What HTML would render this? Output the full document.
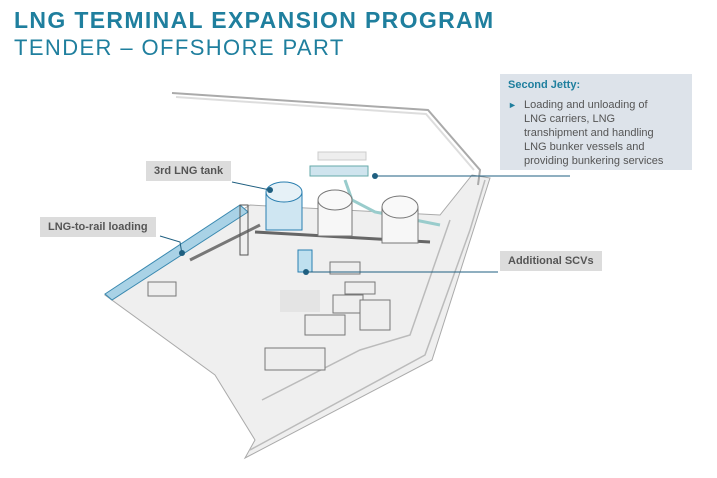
<!DOCTYPE html>
<html><head><meta charset="utf-8"><style>
body{margin:0;width:717px;height:478px;background:#fff;overflow:hidden;font-family:"Liberation Sans",sans-serif;position:relative}
.t1{position:absolute;left:14px;top:7px;font-size:23px;font-weight:bold;color:#1f7f9e;letter-spacing:1.35px}
.t2{position:absolute;left:14px;top:35px;font-size:22px;color:#1f7f9e;letter-spacing:1.4px}
.lbl{position:absolute;background:#dcdcdc;color:#555;font-size:11px;font-weight:bold;padding:4px 8px}
.box{position:absolute;left:500px;top:74px;width:192px;height:96px;background:#dde3ea;color:#555;font-size:11px;line-height:14px}
</style></head><body>
<div class="t1">LNG TERMINAL EXPANSION PROGRAM</div>
<div class="t2">TENDER – OFFSHORE PART</div>
<svg width="717" height="478" style="position:absolute;left:0;top:0">
<polygon points="105,295 250,205 440,215 472,175 490,178 432,360 245,458 255,440 215,375" fill="#efefef" stroke="#aaa"/>
<polyline points="250,450 425,355 470,230 485,180" fill="none" stroke="#bbb" stroke-width="1.5"/>
<polyline points="262,400 360,350 410,335 450,220" fill="none" stroke="#bbb" stroke-width="1.5"/>
<polyline points="172,93 428,110 480,170 478,185" fill="none" stroke="#aaa" stroke-width="2"/>
<polyline points="176,97 426,114 474,170" fill="none" stroke="#ddd" stroke-width="2"/>
<polygon points="105,294 240,205 248,212 112,300" fill="#a9d2e6" stroke="#3a89b0"/>
<line x1="190" y1="260" x2="260" y2="225" stroke="#777" stroke-width="3"/>
<rect x="240" y="205" width="8" height="50" fill="none" stroke="#555"/>
<rect x="310" y="166" width="58" height="10" fill="#cfe4ee" stroke="#6aa"/>
<rect x="318" y="152" width="48" height="8" fill="#eee" stroke="#ccc"/>
<polyline points="345,180 352,200 375,212 440,225" fill="none" stroke="#9cc" stroke-width="3"/>
<line x1="255" y1="232" x2="430" y2="242" stroke="#666" stroke-width="3"/>
<rect x="266" y="192" width="36" height="38" fill="#cfe6f2" stroke="#2a7fb0"/>
<ellipse cx="284" cy="192" rx="18" ry="10" fill="#e6f1f7" stroke="#2a7fb0"/>
<rect x="318" y="200" width="34" height="36" fill="#f7f7f7" stroke="#777"/>
<ellipse cx="335" cy="200" rx="17" ry="10" fill="#f9f9f9" stroke="#777"/>
<rect x="382" y="207" width="36" height="36" fill="#f7f7f7" stroke="#777"/>
<ellipse cx="400" cy="207" rx="18" ry="11" fill="#f9f9f9" stroke="#777"/>
<rect x="298" y="250" width="14" height="22" fill="#bfe0ef" stroke="#2a7fb0"/>
<rect x="330" y="262" width="30" height="12" fill="#eee" stroke="#777"/>
<rect x="345" y="282" width="30" height="12" fill="#eee" stroke="#777"/>
<rect x="333" y="295" width="30" height="18" fill="#eee" stroke="#777"/>
<rect x="305" y="315" width="40" height="20" fill="#eee" stroke="#777"/>
<rect x="360" y="300" width="30" height="30" fill="#eee" stroke="#777"/>
<rect x="265" y="348" width="60" height="22" fill="#eee" stroke="#777"/>
<rect x="148" y="282" width="28" height="14" fill="#eee" stroke="#777"/>
<rect x="280" y="290" width="40" height="22" fill="#e4e4e4"/>
<line x1="232" y1="182" x2="270" y2="190" stroke="#1f5f80"/><circle cx="270" cy="190" r="3" fill="#1f5f80"/>
<polyline points="160,236 180,242 182,254" fill="none" stroke="#1f5f80"/><circle cx="182" cy="253" r="3" fill="#1f5f80"/>
<line x1="375" y1="176" x2="570" y2="176" stroke="#1f5f80"/><circle cx="375" cy="176" r="3" fill="#1f5f80"/>
<line x1="306" y1="272" x2="498" y2="272" stroke="#1f5f80"/><circle cx="306" cy="272" r="3" fill="#1f5f80"/>
</svg>
<div class="lbl" style="left:146px;top:161px">3rd LNG tank</div>
<div class="lbl" style="left:40px;top:217px">LNG-to-rail loading</div>
<div class="lbl" style="left:500px;top:251px">Additional SCVs</div>
<div class="box"><div style="color:#1f7f9e;font-weight:bold;padding:4px 8px">Second Jetty:</div>
<div style="padding-left:24px;position:relative;margin-top:2px"><span style="position:absolute;left:8px;color:#1f7f9e;font-size:9px">►</span>Loading and unloading of<br>LNG carriers, LNG<br>transhipment and handling<br>LNG bunker vessels and<br>providing bunkering services</div></div>
</body></html>
